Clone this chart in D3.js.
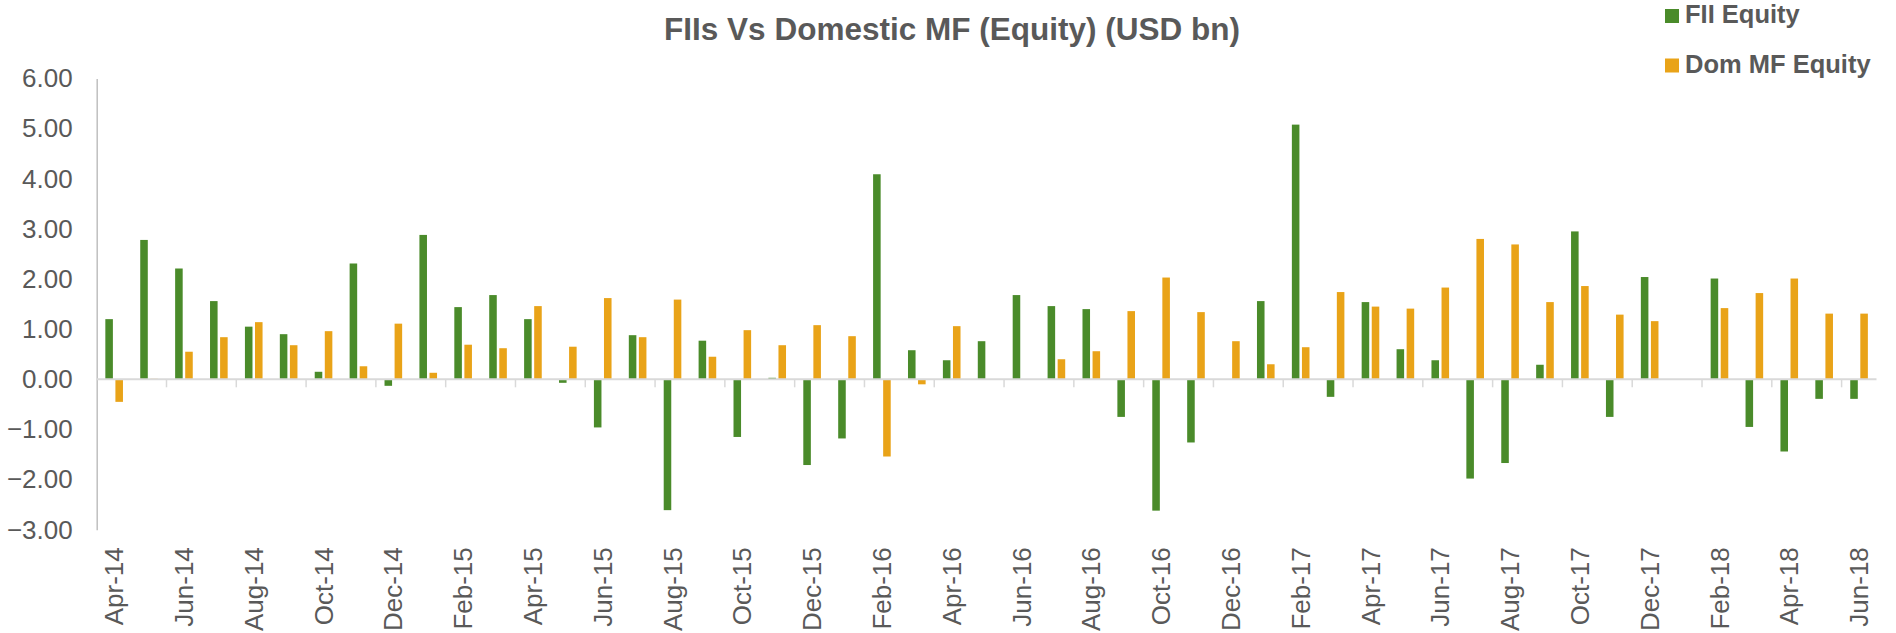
<!DOCTYPE html>
<html>
<head>
<meta charset="utf-8">
<script src="https://cdn.jsdelivr.net/npm/d3@7"></script>
<style>
    body { margin: 0; background: #fff; }
    svg text { font-family: "Liberation Sans", Arial, sans-serif; fill: #595959; }
</style>
</head>
<body>
<svg id="chart" width="1896" height="633"></svg>
<script>
// month categories
const months = [
    "Apr-14", "May-14", "Jun-14", "Jul-14", "Aug-14", "Sep-14", "Oct-14", "Nov-14", "Dec-14",
    "Jan-15", "Feb-15", "Mar-15", "Apr-15", "May-15", "Jun-15", "Jul-15", "Aug-15", "Sep-15", "Oct-15", "Nov-15", "Dec-15",
    "Jan-16", "Feb-16", "Mar-16", "Apr-16", "May-16", "Jun-16", "Jul-16", "Aug-16", "Sep-16", "Oct-16", "Nov-16", "Dec-16",
    "Jan-17", "Feb-17", "Mar-17", "Apr-17", "May-17", "Jun-17", "Jul-17", "Aug-17", "Sep-17", "Oct-17", "Nov-17", "Dec-17",
    "Jan-18", "Feb-18", "Mar-18", "Apr-18", "May-18", "Jun-18"
];

// FII Equity (USD bn)
const fiiEquity = [
    1.20, 2.78, 2.21, 1.56, 1.05, 0.90, 0.15, 2.31, -0.13,
    2.88, 1.44, 1.68, 1.20, -0.07, -0.96, 0.88, -2.61, 0.77, -1.15, 0.03, -1.71,
    -1.18, 4.09, 0.58, 0.38, 0.76, 1.68, 1.46, 1.40, -0.75, -2.62, -1.26, null,
    1.56, 5.08, -0.35, 1.54, 0.60, 0.38, -1.98, -1.67, 0.29, 2.95, -0.75, 2.04,
    null, 2.01, -0.95, -1.44, -0.39, -0.39
];

// Dom MF Equity (USD bn)
const domMfEquity = [
    -0.45, 0.01, 0.55, 0.84, 1.14, 0.68, 0.96, 0.26, 1.11,
    0.13, 0.69, 0.62, 1.46, 0.65, 1.62, 0.84, 1.59, 0.45, 0.98, 0.68, 1.08,
    0.86, -1.54, -0.10, 1.06, -0.01, null, 0.40, 0.56, 1.36, 2.03, 1.34, 0.76,
    0.30, 0.64, 1.74, 1.45, 1.41, 1.83, 2.80, 2.69, 1.54, 1.86, 1.29, 1.16,
    null, 1.42, 1.72, 2.01, 1.31, 1.31
];

const seriesNames = ["FII Equity", "Dom MF Equity"];
const yTicks = [6, 5, 4, 3, 2, 1, 0, -1, -2, -3];

const colors = { "FII Equity": "#4a8b2a", "Dom MF Equity": "#e9a318" };

const svg = d3.select("#chart");
const plot = { left: 96.7, right: 1876.5, top: 78.5, bottom: 529.7 };

// category scale, bars centred in each month
const x0 = d3.scaleBand()
    .domain(months)
    .range([plot.left, plot.right])
    .paddingInner(0.495)
    .paddingOuter(0.2475);

const x1 = d3.scaleBand()
    .domain(seriesNames)
    .range([0, x0.bandwidth()])
    .paddingInner(0.25);

const y = d3.scaleLinear()
    .domain([-3, 6])
    .range([plot.bottom, plot.top]);

const rows = months.map((m, i) => ({
    month: m,
    values: [
        { key: "FII Equity", value: fiiEquity[i] },
        { key: "Dom MF Equity", value: domMfEquity[i] }
    ]
}));

// title
svg.append("text")
    .attr("x", 952)
    .attr("y", 39.5)
    .attr("text-anchor", "middle")
    .style("font-size", "31.5px")
    .style("font-weight", "bold")
    .text("FIIs Vs Domestic MF (Equity) (USD bn)");

// y axis
const yAxis = svg.append("g")
    .attr("transform", "translate(" + plot.left + ",0)")
    .call(d3.axisLeft(y).tickValues(yTicks).tickFormat(d3.format(".2f")).tickSize(0).tickPadding(24));

yAxis.select(".domain").attr("stroke", "#bfbfbf").attr("stroke-width", 1.5);
yAxis.selectAll("text")
    .style("font-size", "26px")
    .attr("fill", "#595959");

// bars
const groups = svg.append("g").selectAll("g")
    .data(rows)
    .enter().append("g")
    .attr("transform", d => "translate(" + x0(d.month) + ",0)");

groups.selectAll("rect")
    .data(d => d.values.filter(v => v.value !== null))
    .enter().append("rect")
    .attr("x", d => x1(d.key))
    .attr("width", x1.bandwidth())
    .attr("y", d => y(Math.max(0, d.value)))
    .attr("height", d => Math.abs(y(d.value) - y(0)))
    .attr("fill", d => colors[d.key]);

// zero line with tick marks every two months
const step = x0.step();
const boundary = i => x0(months[i]) - step * x0.paddingInner() / 2;

svg.append("line")
    .attr("x1", plot.left)
    .attr("x2", plot.right)
    .attr("y1", y(0))
    .attr("y2", y(0))
    .attr("stroke", "#d9d9d9")
    .attr("stroke-width", 2);

svg.append("g").selectAll("line")
    .data(months.map((m, i) => i).filter(i => i > 0 && i % 2 === 0))
    .enter().append("line")
    .attr("x1", i => boundary(i))
    .attr("x2", i => boundary(i))
    .attr("y1", y(0))
    .attr("y2", y(0) + 8)
    .attr("stroke", "#d9d9d9")
    .attr("stroke-width", 1.5);

// month labels below the plot, every second month
const xAxis = svg.append("g")
    .attr("transform", "translate(0," + plot.bottom + ")")
    .call(d3.axisBottom(x0).tickValues(months.filter((m, i) => i % 2 === 0)).tickSize(0).tickPadding(0));

xAxis.select(".domain").remove();
xAxis.selectAll("text")
    .attr("transform", "rotate(-90)")
    .attr("x", -17.5)
    .attr("y", 0)
    .attr("dy", "0.35em")
    .attr("text-anchor", "end")
    .style("font-size", "26px")
    .attr("fill", "#595959");

// legend
const legend = svg.append("g").selectAll("g")
    .data(seriesNames)
    .enter().append("g")
    .attr("transform", (d, i) => "translate(1665," + (9 + i * 49.5) + ")");

legend.append("rect")
    .attr("width", 14)
    .attr("height", 14)
    .attr("fill", d => colors[d]);

legend.append("text")
    .attr("x", 20)
    .attr("y", 14)
    .style("font-size", "25.5px")
    .style("font-weight", "bold")
    .text(d => d);
</script>
</body>
</html>
